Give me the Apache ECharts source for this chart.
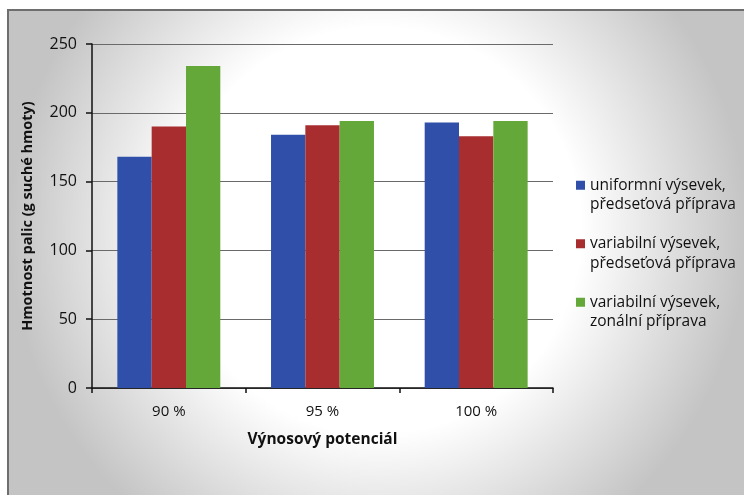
<!DOCTYPE html>
<html><head><meta charset="utf-8">
<script src="https://cdn.jsdelivr.net/npm/echarts@6/dist/echarts.min.js"></script>
<style>html,body{margin:0;padding:0;background:#fff}#c{width:744px;height:495px}</style>
</head><body><div id="c"></div>
<script>
const categories = ['90 %', '95 %', '100 %'];
const seriesNames = ['uniformní výsevek,\npředseťová příprava', 'variabilní výsevek,\npředseťová příprava', 'variabilní výsevek,\nzonální příprava'];
const uniformPredset = [168, 184, 193];
const variabilniPredset = [190, 191, 183];
const variabilniZonal = [234, 194, 194];
const yTicks = [0, 50, 100, 150, 200, 250];
const colors = ['#2f4fa8', '#a82d2e', '#64a83a'];
const font = '"Open Sans", sans-serif';

const chart = echarts.init(document.getElementById('c'));
const values = [uniformPredset, variabilniPredset, variabilniZonal];
chart.setOption({
  animation: false,
  graphic: [{
    type: 'rect', z: -10, silent: true,
    shape: { x: 8, y: 10, width: 740, height: 490 },
    style: {
      fill: { type: 'radial', x: 0.5, y: 0.45, r: 0.75,
        colorStops: [{ offset: 0, color: '#ffffff' }, { offset: 0.55, color: '#ffffff' }, { offset: 1, color: '#c4c4c4' }] },
      stroke: '#6e6e6e', lineWidth: 2
    }
  }],
  grid: { left: 92, right: 191, top: 44, bottom: 107, containLabel: false },
  legend: {
    orient: 'vertical', left: 571, top: 151, itemWidth: 9, itemHeight: 9, itemGap: 0,
    icon: 'rect',
    formatter: name => '\n' + name,
    textStyle: { fontFamily: font, fontSize: 15.5, color: '#111', lineHeight: 19.5 },
    data: seriesNames
  },
  xAxis: {
    type: 'category', data: categories,
    name: 'Výnosový potenciál', nameLocation: 'middle', nameGap: 44,
    nameTextStyle: { fontFamily: font, fontSize: 15.5, fontWeight: 'bold', color: '#111' },
    axisLine: { lineStyle: { color: '#111', width: 1.5 } },
    axisTick: { show: true, length: 5, lineStyle: { color: '#111', width: 1.5 } },
    axisLabel: { fontFamily: font, fontSize: 15, color: '#111', margin: 16 }
  },
  yAxis: {
    type: 'value', min: 0, max: 250, interval: 50,
    name: 'Hmotnost palic (g suché hmoty)', nameLocation: 'middle', nameGap: 57, nameRotate: 90,
    nameTextStyle: { fontFamily: font, fontSize: 14.5, fontWeight: 'bold', color: '#111' },
    axisLine: { show: true, lineStyle: { color: '#111', width: 1.5 } },
    axisTick: { show: true, length: 6, lineStyle: { color: '#111', width: 1.5 } },
    axisLabel: { fontFamily: font, fontSize: 16, color: '#111', margin: 15,
      formatter: v => yTicks.includes(v) ? String(v) : '' },
    splitLine: { lineStyle: { color: '#6a6a6a', width: 1 } }
  },
  series: seriesNames.map((n, i) => ({
    name: n, type: 'bar', data: values[i], barGap: '0%', barCategoryGap: '33%',
    itemStyle: { color: colors[i] }
  }))
});
</script></body></html>
